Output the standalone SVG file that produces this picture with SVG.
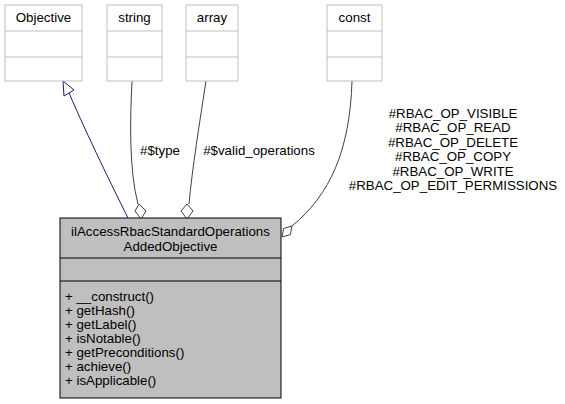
<svg xmlns="http://www.w3.org/2000/svg" width="565" height="404" viewBox="0 0 565 404">
<style>
text{font-family:"Liberation Sans",Arial,Helvetica,sans-serif;font-size:13.3px;fill:#000}
.c{text-anchor:middle}
.box{fill:#fff;stroke:#bfbfbf;stroke-width:1}
.main{fill:#bfbfbf;stroke:#000;stroke-width:1}
.e{fill:none;stroke:#404040;stroke-width:1}
.inh{fill:none;stroke:#191970;stroke-width:1}
</style>
<rect width="565" height="404" fill="#fff"/>
<g id="connectors">
<path class="inh" d="M128,218 C113,188 88,137 69,93"/>
<polygon points="63,81 74,90 64,96" fill="#fff" stroke="#191970"/>
<path class="e" d="M132,81 C130,120 129,170 138,204"/>
<polygon points="141,219 135,211 139,204 146,211" fill="#fff" stroke="#404040"/>
<path class="e" d="M206,81 C200,120 192,170 189,204"/>
<polygon points="187,219 181,211 187,204 193,211" fill="#fff" stroke="#404040"/>
<path class="e" d="M352,81 C350,150 330,195 292,226"/>
<polygon points="282,237 283.6,228.5 292,226 290.4,234.5" fill="#fff" stroke="#404040"/>
<text class="c" x="160" y="155">#$type</text>
<text class="c" x="259" y="155">#$valid_operations</text>
<text class="c" x="453" y="117.5">#RBAC_OP_VISIBLE</text>
<text class="c" x="453" y="132">#RBAC_OP_READ</text>
<text class="c" x="453" y="146.5">#RBAC_OP_DELETE</text>
<text class="c" x="453" y="161">#RBAC_OP_COPY</text>
<text class="c" x="453" y="175.5">#RBAC_OP_WRITE</text>
<text class="c" x="453" y="190">#RBAC_OP_EDIT_PERMISSIONS</text>
</g>
<g id="Objective">
<rect class="box" x="5" y="5" width="77" height="76"/>
<line class="box" x1="5" y1="31" x2="82" y2="31"/>
<line class="box" x1="5" y1="57" x2="82" y2="57"/>
<text class="c" x="43.5" y="22">Objective</text>
</g>
<g id="string">
<rect class="box" x="107" y="5" width="55" height="76"/>
<line class="box" x1="107" y1="31" x2="162" y2="31"/>
<line class="box" x1="107" y1="57" x2="162" y2="57"/>
<text class="c" x="134.5" y="22">string</text>
</g>
<g id="array">
<rect class="box" x="186" y="5" width="52" height="76"/>
<line class="box" x1="186" y1="31" x2="238" y2="31"/>
<line class="box" x1="186" y1="57" x2="238" y2="57"/>
<text class="c" x="212" y="22">array</text>
</g>
<g id="const">
<rect class="box" x="327" y="5" width="55" height="76"/>
<line class="box" x1="327" y1="31" x2="382" y2="31"/>
<line class="box" x1="327" y1="57" x2="382" y2="57"/>
<text class="c" x="354.5" y="22">const</text>
</g>
<g id="main">
<rect class="main" x="60" y="218" width="221" height="180"/>
<line stroke="#000" x1="60" y1="258" x2="281" y2="258"/>
<line stroke="#000" x1="60" y1="281" x2="281" y2="281"/>
<text class="c" x="170.5" y="236">ilAccessRbacStandardOperations</text>
<text class="c" x="170.5" y="251">AddedObjective</text>
<text x="65" y="301">+ __construct()</text>
<text x="65" y="315">+ getHash()</text>
<text x="65" y="329">+ getLabel()</text>
<text x="65" y="343">+ isNotable()</text>
<text x="65" y="357">+ getPreconditions()</text>
<text x="65" y="371">+ achieve()</text>
<text x="65" y="385">+ isApplicable()</text>
</g>
</svg>
